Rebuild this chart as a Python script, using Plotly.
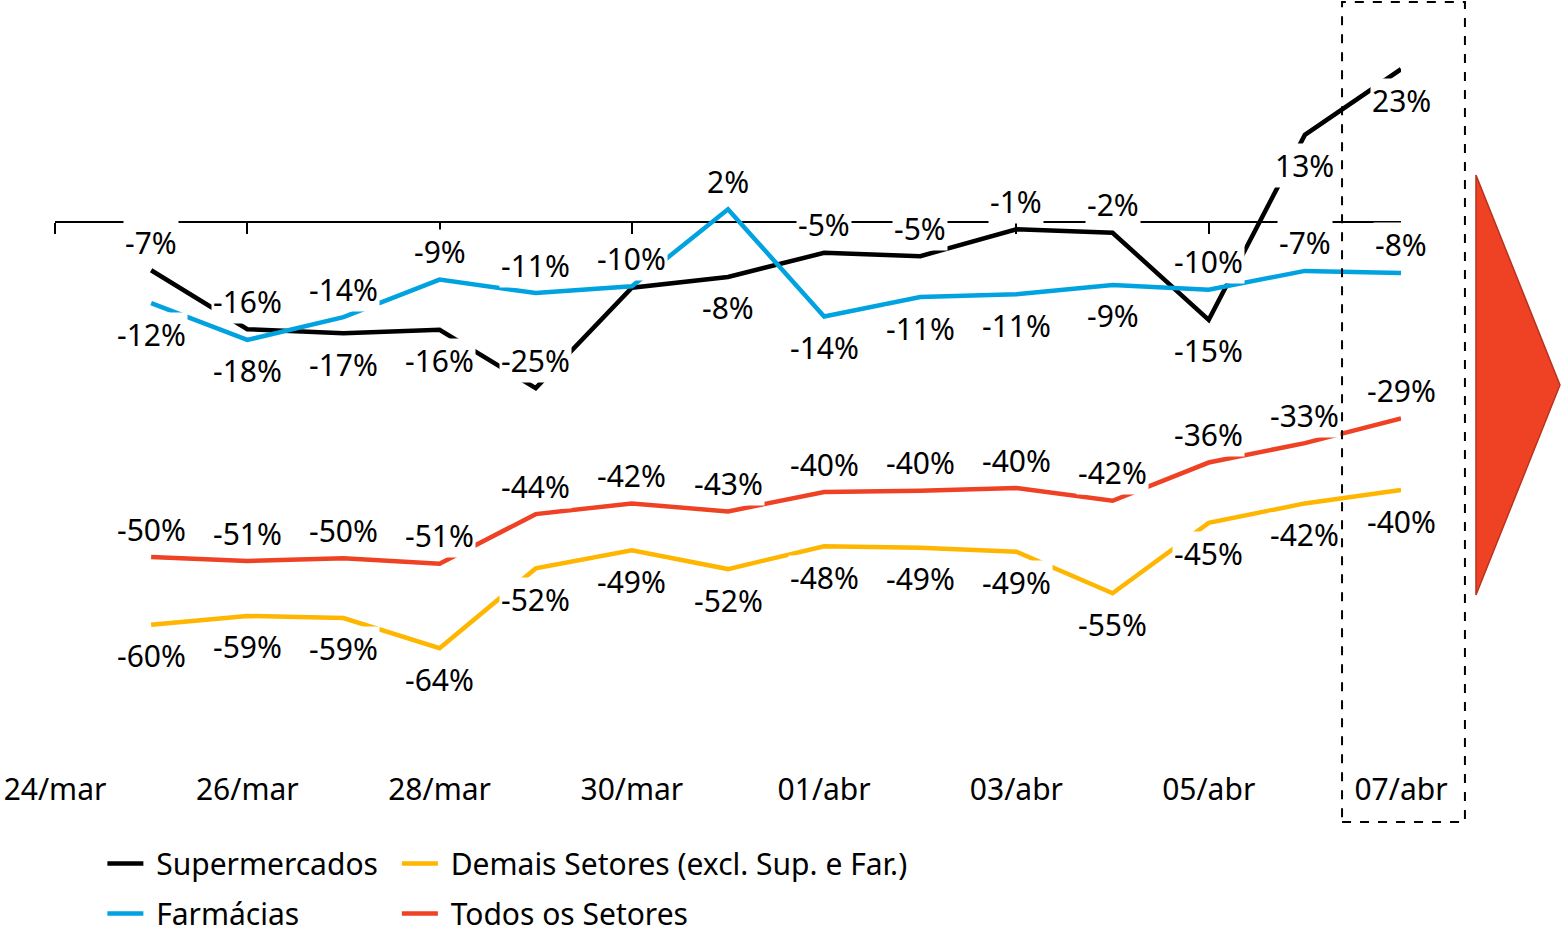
import plotly.graph_objects as go

dates = ["24/mar", "25/mar", "26/mar", "27/mar", "28/mar", "29/mar", "30/mar", "31/mar",
         "01/abr", "02/abr", "03/abr", "04/abr", "05/abr", "06/abr", "07/abr"]
tick_dates = dates[::2]
series_dates = dates[1:]

supermercados = [-7.2, -16.0, -16.6, -16.1, -24.8, -9.8, -8.2, -4.6, -5.1, -1.1, -1.6, -14.6, 13.0, 22.8]
farmacias = [-12.1, -17.6, -14.2, -8.6, -10.6, -9.6, 1.9, -14.1, -11.2, -10.8, -9.4, -10.1, -7.3, -7.6]
demais = [-60.1, -58.8, -59.1, -63.6, -51.7, -49.0, -51.8, -48.4, -48.6, -49.2, -55.4, -44.9, -42.0, -40.0]
todos = [-50.0, -50.6, -50.2, -51.0, -43.6, -42.0, -43.2, -40.3, -40.1, -39.7, -41.6, -35.9, -33.0, -29.3]

# where each data label goes: "t" above the point, "b" below, "" no label
pos_super = ["t", "t", "b", "b", "t", "", "b", "t", "t", "t", "t", "b", "b", "b"]
pos_farm = ["b", "b", "t", "t", "t", "t", "t", "b", "b", "b", "b", "t", "t", "t"]
pos_demais = ["b"] * 14
pos_todos = ["t"] * 14

FONT = "Noto Sans"
FS = 30
Y_MIN, Y_MAX = -81.04, 33.13

# (name, values, label positions, colour, legend, x axis)
series = [
    ("Demais Setores (excl. Sup. e Far.)", demais, pos_demais, "#FFB600", "legend2", "x"),
    ("Todos os Setores", todos, pos_todos, "#EF4123", "legend2", "x"),
    ("Supermercados", supermercados, pos_super, "#000000", "legend", "x2"),
    ("Farmácias", farmacias, pos_farm, "#00A3E0", "legend", "x2"),
]

fig = go.Figure()

for name, vals, pos, color, leg, xa in series:
    fig.add_trace(go.Scatter(x=series_dates, y=vals, name="\u00a0" + name, mode="lines",
                             line=dict(color=color, width=4.5), xaxis=xa, yaxis="y",
                             legend=leg, legendgroup=name, hoverinfo="skip"))

for name, vals, pos, color, leg, xa in series:
    for d, v, p in zip(series_dates, vals, pos):
        if not p:
            continue
        fig.add_annotation(x=d, y=v, text=f"{round(v)}%", showarrow=False,
                           yshift=28 if p == "t" else -31,
                           bgcolor="white", borderpad=1,
                           font=dict(family=FONT, size=FS, color="black"))

# dashed box around the last day
fig.add_shape(type="rect", xref="paper", yref="paper",
              x0=0.9562, x1=1.0475, y0=-0.0745, y1=0.9974,
              line=dict(color="black", width=2, dash="dash"), layer="above")

# red arrow on the right
fig.add_shape(type="path", xref="paper", yref="paper",
              path="M 1.0557 0.7712 L 1.1181 0.4967 L 1.0557 0.2222 Z",
              fillcolor="#EF4123", line=dict(color="#B83220", width=1.5))

legend_style = dict(y=-0.0948, xanchor="left", yanchor="top", orientation="v",
                    tracegroupgap=8, itemwidth=36, bgcolor="rgba(0,0,0,0)",
                    font=dict(family=FONT, size=FS, color="black"))

fig.update_layout(
    width=1562, height=932,
    margin=dict(l=55, r=161, t=0, b=167, autoexpand=False),
    plot_bgcolor="white", paper_bgcolor="white",
    font=dict(family=FONT, size=FS, color="black"),
    showlegend=True,
    legend=dict(x=0.0352, **legend_style),
    legend2=dict(x=0.254, **legend_style),
    xaxis=dict(type="category", categoryorder="array", categoryarray=dates,
               range=[0, len(dates) - 1], tickmode="array", tickvals=tick_dates,
               ticktext=tick_dates, showline=False, showgrid=False, zeroline=False,
               ticks="", ticklabelstandoff=4,
               tickfont=dict(family=FONT, size=FS, color="black")),
    xaxis2=dict(type="category", categoryorder="array", categoryarray=dates,
                matches="x", overlaying="x", anchor="free",
                position=(0 - Y_MIN) / (Y_MAX - Y_MIN),
                tickmode="array", tickvals=tick_dates, showticklabels=False,
                showline=True, linecolor="black", linewidth=1.5,
                ticks="outside", ticklen=11, tickwidth=1.5, tickcolor="black",
                showgrid=False, zeroline=False, layer="below traces"),
    yaxis=dict(range=[Y_MIN, Y_MAX], visible=False, showgrid=False, zeroline=False),
)

fig.write_html("out.html", config={"displayModeBar": False},
               post_script="document.body.style.margin = '0';")
